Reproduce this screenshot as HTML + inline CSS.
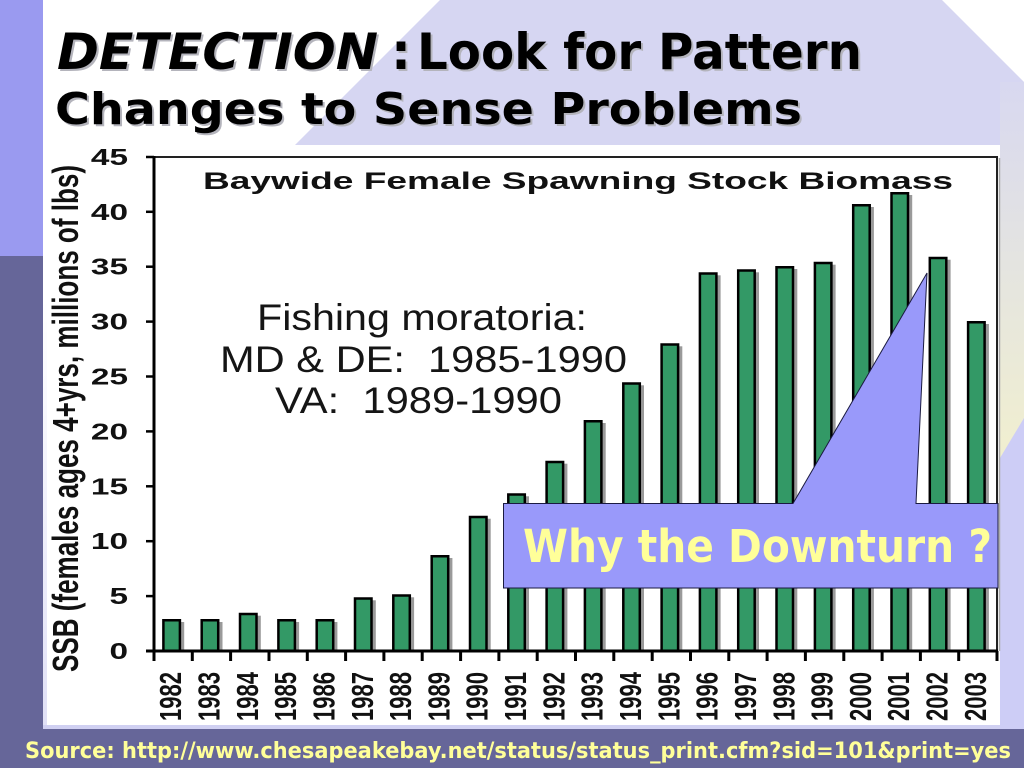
<!DOCTYPE html>
<html><head><meta charset="utf-8"><style>
html,body{margin:0;padding:0;background:#fff;}
body{width:1024px;height:768px;overflow:hidden;}
svg{display:block;}
.t{font-family:"DejaVu Sans","Liberation Sans",sans-serif;font-weight:bold;}
.a{font-family:"Liberation Sans",Arial,sans-serif;}
</style></head><body>
<svg width="1024" height="768" viewBox="0 0 1024 768" xmlns="http://www.w3.org/2000/svg">
<defs>
<linearGradient id="rg" x1="0" y1="0" x2="0" y2="1">
<stop offset="0" stop-color="#d8d8f0"/><stop offset="0.55" stop-color="#e6e6de"/><stop offset="1" stop-color="#f1efcf"/>
</linearGradient>
<linearGradient id="lg" x1="0" y1="0" x2="0" y2="1">
<stop offset="0" stop-color="#ffffff"/><stop offset="1" stop-color="#e0e0f6"/>
</linearGradient>
</defs>
<!-- background -->
<rect x="0" y="0" width="1024" height="768" fill="#ffffff"/>
<polygon points="440,0 942,0 1024,82 1024,768 0,768 0,440" fill="#d6d6f2"/>
<rect x="1000" y="82" width="24" height="380" fill="url(#rg)"/>
<polygon points="1000,458 1024,418 1024,730 1000,730" fill="#cdcdf6"/>
<rect x="0" y="0" width="43" height="256" fill="#9a9af0"/>
<rect x="0" y="256" width="43" height="512" fill="#666699"/>

<!-- chart image area -->
<rect x="43" y="145" width="957" height="583" fill="#ffffff"/>
<rect x="43" y="300" width="4" height="428" fill="url(#lg)"/>
<rect x="43" y="725" width="957" height="4" fill="#d0d0f2"/>

<!-- title -->
<g class="t">
<text x="59" y="71" font-size="50" font-style="italic" textLength="321" lengthAdjust="spacingAndGlyphs" fill="#b4b4bc">DETECTION</text>
<text x="393" y="71" font-size="50" fill="#b4b4bc">:</text>
<text x="419" y="71" font-size="50" textLength="445" lengthAdjust="spacingAndGlyphs" fill="#b4b4bc">Look for Pattern</text>
<text x="57" y="126" font-size="44" textLength="747" lengthAdjust="spacingAndGlyphs" fill="#b4b4bc">Changes to Sense Problems</text>
<text x="57" y="69" font-size="50" font-style="italic" textLength="321" lengthAdjust="spacingAndGlyphs" fill="#000">DETECTION</text>
<text x="391" y="69" font-size="50" fill="#000">:</text>
<text x="417" y="69" font-size="50" textLength="445" lengthAdjust="spacingAndGlyphs" fill="#000">Look for Pattern</text>
<text x="55" y="124" font-size="44" textLength="747" lengthAdjust="spacingAndGlyphs" fill="#000">Changes to Sense Problems</text>
</g>

<!-- chart title -->
<text class="a" x="203" y="189" font-size="24" font-weight="bold" textLength="750" lengthAdjust="spacingAndGlyphs" fill="#111">Baywide Female Spawning Stock Biomass</text>

<!-- annotation -->
<g class="a" font-size="37" fill="#151515">
<text x="257" y="330" textLength="330" lengthAdjust="spacingAndGlyphs">Fishing moratoria:</text>
<text x="220" y="372" textLength="407" lengthAdjust="spacingAndGlyphs">MD &amp; DE:&#160; 1985-1990</text>
<text x="275" y="413" textLength="287" lengthAdjust="spacingAndGlyphs">VA:&#160; 1989-1990</text>
</g>

<!-- frame -->
<line x1="147" y1="157" x2="998" y2="157" stroke="#222" stroke-width="2"/>
<line x1="997" y1="156" x2="997" y2="651" stroke="#222" stroke-width="2"/>
<line x1="999.5" y1="158" x2="999.5" y2="651" stroke="#aaa" stroke-width="1.5"/>

<!-- bar shadows -->
<g fill="#9a9a9a">
<rect x="165.2" y="622" width="19" height="29"/>
<rect x="203.5" y="622" width="19" height="29"/>
<rect x="241.8" y="615.7" width="19" height="35.3"/>
<rect x="280.1" y="622" width="19" height="29"/>
<rect x="318.4" y="622" width="19" height="29"/>
<rect x="356.8" y="600.3" width="19" height="50.7"/>
<rect x="395.1" y="597.3" width="19" height="53.7"/>
<rect x="433.4" y="558" width="19" height="93"/>
<rect x="471.7" y="518.7" width="19" height="132.3"/>
<rect x="510.0" y="496.3" width="19" height="154.7"/>
<rect x="548.4" y="463.7" width="19" height="187.3"/>
<rect x="586.7" y="423" width="19" height="228"/>
<rect x="625.0" y="385.3" width="19" height="265.7"/>
<rect x="663.3" y="346.3" width="19" height="304.7"/>
<rect x="701.6" y="275.3" width="19" height="375.7"/>
<rect x="740.0" y="272.3" width="19" height="378.7"/>
<rect x="778.3" y="269" width="19" height="382"/>
<rect x="816.6" y="264.7" width="19" height="386.3"/>
<rect x="854.9" y="207" width="19" height="444"/>
<rect x="893.2" y="195" width="19" height="456"/>
<rect x="931.6" y="259.7" width="19" height="391.3"/>
<rect x="969.9" y="324" width="19" height="327"/>
</g>
<!-- bars -->
<g fill="#339966" stroke="#000" stroke-width="2.5">
<rect x="163.4" y="620.25" width="16.5" height="30.75"/>
<rect x="201.7" y="620.25" width="16.5" height="30.75"/>
<rect x="240.0" y="614" width="16.5" height="37"/>
<rect x="278.4" y="620.25" width="16.5" height="30.75"/>
<rect x="316.7" y="620.25" width="16.5" height="30.75"/>
<rect x="355.0" y="598.5" width="16.5" height="52.5"/>
<rect x="393.3" y="595.5" width="16.5" height="55.5"/>
<rect x="431.7" y="556.25" width="16.5" height="94.75"/>
<rect x="470.0" y="517" width="16.5" height="134"/>
<rect x="508.3" y="494.5" width="16.5" height="156.5"/>
<rect x="546.6" y="462" width="16.5" height="189"/>
<rect x="584.9" y="421.25" width="16.5" height="229.75"/>
<rect x="623.3" y="383.5" width="16.5" height="267.5"/>
<rect x="661.6" y="344.5" width="16.5" height="306.5"/>
<rect x="699.9" y="273.5" width="16.5" height="377.5"/>
<rect x="738.2" y="270.5" width="16.5" height="380.5"/>
<rect x="776.5" y="267.25" width="16.5" height="383.75"/>
<rect x="814.9" y="263" width="16.5" height="388"/>
<rect x="853.2" y="205.25" width="16.5" height="445.75"/>
<rect x="891.5" y="193.25" width="16.5" height="457.75"/>
<rect x="929.8" y="258" width="16.5" height="393"/>
<rect x="968.1" y="322.25" width="16.5" height="328.75"/>
</g>

<!-- axes -->
<line x1="154" y1="156" x2="154" y2="661" stroke="#000" stroke-width="3"/>
<line x1="146" y1="651" x2="998" y2="651" stroke="#000" stroke-width="3"/>
<g stroke="#000" stroke-width="2.5">
<line x1="146" y1="157" x2="154" y2="157"/>
<line x1="146" y1="211.8" x2="154" y2="211.8"/>
<line x1="146" y1="266.7" x2="154" y2="266.7"/>
<line x1="146" y1="321.6" x2="154" y2="321.6"/>
<line x1="146" y1="376.5" x2="154" y2="376.5"/>
<line x1="146" y1="431.4" x2="154" y2="431.4"/>
<line x1="146" y1="486.3" x2="154" y2="486.3"/>
<line x1="146" y1="541.2" x2="154" y2="541.2"/>
<line x1="146" y1="596.1" x2="154" y2="596.1"/>
</g>
<g stroke="#000" stroke-width="3">
<line x1="192.3" y1="651" x2="192.3" y2="661"/>
<line x1="230.6" y1="651" x2="230.6" y2="661"/>
<line x1="269.0" y1="651" x2="269.0" y2="661"/>
<line x1="307.3" y1="651" x2="307.3" y2="661"/>
<line x1="345.6" y1="651" x2="345.6" y2="661"/>
<line x1="383.9" y1="651" x2="383.9" y2="661"/>
<line x1="422.2" y1="651" x2="422.2" y2="661"/>
<line x1="460.6" y1="651" x2="460.6" y2="661"/>
<line x1="498.9" y1="651" x2="498.9" y2="661"/>
<line x1="537.2" y1="651" x2="537.2" y2="661"/>
<line x1="575.5" y1="651" x2="575.5" y2="661"/>
<line x1="613.8" y1="651" x2="613.8" y2="661"/>
<line x1="652.2" y1="651" x2="652.2" y2="661"/>
<line x1="690.5" y1="651" x2="690.5" y2="661"/>
<line x1="728.8" y1="651" x2="728.8" y2="661"/>
<line x1="767.1" y1="651" x2="767.1" y2="661"/>
<line x1="805.4" y1="651" x2="805.4" y2="661"/>
<line x1="843.8" y1="651" x2="843.8" y2="661"/>
<line x1="882.1" y1="651" x2="882.1" y2="661"/>
<line x1="920.4" y1="651" x2="920.4" y2="661"/>
<line x1="958.7" y1="651" x2="958.7" y2="661"/>
<line x1="997" y1="651" x2="997" y2="661"/>
</g>

<!-- y tick labels -->
<g class="a" font-size="23" font-weight="bold" fill="#111" text-anchor="end">
<text transform="translate(128,165) scale(1.45,1)">45</text>
<text transform="translate(128,219.8) scale(1.45,1)">40</text>
<text transform="translate(128,274.7) scale(1.45,1)">35</text>
<text transform="translate(128,329.6) scale(1.45,1)">30</text>
<text transform="translate(128,384.5) scale(1.45,1)">25</text>
<text transform="translate(128,439.4) scale(1.45,1)">20</text>
<text transform="translate(128,494.3) scale(1.45,1)">15</text>
<text transform="translate(128,549.2) scale(1.45,1)">10</text>
<text transform="translate(128,604.1) scale(1.45,1)">5</text>
<text transform="translate(128,659) scale(1.45,1)">0</text>
</g>

<!-- y axis title -->
<text class="a" font-size="22" font-weight="bold" fill="#111" textLength="507" lengthAdjust="spacingAndGlyphs" transform="translate(78,672) scale(1.65,1) rotate(-90)">SSB (females ages 4+yrs, millions of lbs)</text>

<!-- x labels -->
<g class="a" font-size="20" font-weight="bold" fill="#111">
<text textLength="49" lengthAdjust="spacingAndGlyphs" transform="translate(181.2,721) scale(1.55,1) rotate(-90)">1982</text>
<text textLength="49" lengthAdjust="spacingAndGlyphs" transform="translate(219.5,721) scale(1.55,1) rotate(-90)">1983</text>
<text textLength="49" lengthAdjust="spacingAndGlyphs" transform="translate(257.8,721) scale(1.55,1) rotate(-90)">1984</text>
<text textLength="49" lengthAdjust="spacingAndGlyphs" transform="translate(296.1,721) scale(1.55,1) rotate(-90)">1985</text>
<text textLength="49" lengthAdjust="spacingAndGlyphs" transform="translate(334.4,721) scale(1.55,1) rotate(-90)">1986</text>
<text textLength="49" lengthAdjust="spacingAndGlyphs" transform="translate(372.8,721) scale(1.55,1) rotate(-90)">1987</text>
<text textLength="49" lengthAdjust="spacingAndGlyphs" transform="translate(411.1,721) scale(1.55,1) rotate(-90)">1988</text>
<text textLength="49" lengthAdjust="spacingAndGlyphs" transform="translate(449.4,721) scale(1.55,1) rotate(-90)">1989</text>
<text textLength="49" lengthAdjust="spacingAndGlyphs" transform="translate(487.7,721) scale(1.55,1) rotate(-90)">1990</text>
<text textLength="49" lengthAdjust="spacingAndGlyphs" transform="translate(526.0,721) scale(1.55,1) rotate(-90)">1991</text>
<text textLength="49" lengthAdjust="spacingAndGlyphs" transform="translate(564.4,721) scale(1.55,1) rotate(-90)">1992</text>
<text textLength="49" lengthAdjust="spacingAndGlyphs" transform="translate(602.7,721) scale(1.55,1) rotate(-90)">1993</text>
<text textLength="49" lengthAdjust="spacingAndGlyphs" transform="translate(641.0,721) scale(1.55,1) rotate(-90)">1994</text>
<text textLength="49" lengthAdjust="spacingAndGlyphs" transform="translate(679.3,721) scale(1.55,1) rotate(-90)">1995</text>
<text textLength="49" lengthAdjust="spacingAndGlyphs" transform="translate(717.6,721) scale(1.55,1) rotate(-90)">1996</text>
<text textLength="49" lengthAdjust="spacingAndGlyphs" transform="translate(756.0,721) scale(1.55,1) rotate(-90)">1997</text>
<text textLength="49" lengthAdjust="spacingAndGlyphs" transform="translate(794.3,721) scale(1.55,1) rotate(-90)">1998</text>
<text textLength="49" lengthAdjust="spacingAndGlyphs" transform="translate(832.6,721) scale(1.55,1) rotate(-90)">1999</text>
<text textLength="49" lengthAdjust="spacingAndGlyphs" transform="translate(870.9,721) scale(1.55,1) rotate(-90)">2000</text>
<text textLength="49" lengthAdjust="spacingAndGlyphs" transform="translate(909.2,721) scale(1.55,1) rotate(-90)">2001</text>
<text textLength="49" lengthAdjust="spacingAndGlyphs" transform="translate(947.6,721) scale(1.55,1) rotate(-90)">2002</text>
<text textLength="49" lengthAdjust="spacingAndGlyphs" transform="translate(985.9,721) scale(1.55,1) rotate(-90)">2003</text>
</g>

<!-- callout -->
<path d="M503.5,503.5 L793,503.5 L927,273 L916,503.5 L998,503.5 L998,588 L503.5,588 Z" fill="#9999fa" stroke="#1a1a40" stroke-width="1"/>
<text class="t" x="523" y="562" font-size="45" textLength="469" lengthAdjust="spacingAndGlyphs" fill="#ffff99">Why the Downturn ?</text>

<!-- bottom band -->
<rect x="0" y="729" width="1024" height="39" fill="#666699"/>
<text class="t" x="25" y="758" font-size="22" textLength="986" lengthAdjust="spacingAndGlyphs" fill="#ffff99">Source: http://www.chesapeakebay.net/status/status_print.cfm?sid=101&amp;print=yes</text>
</svg>
</body></html>
